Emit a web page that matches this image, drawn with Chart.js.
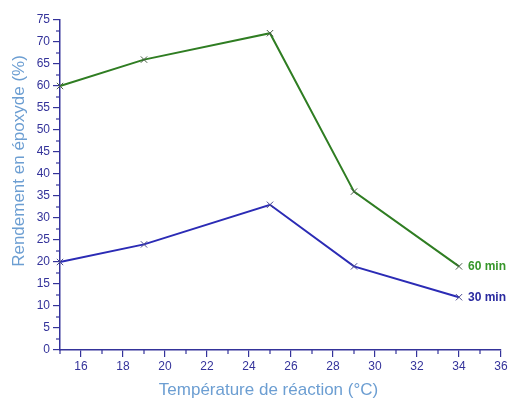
<!DOCTYPE html>
<html>
<head>
<meta charset="utf-8">
<script src="https://cdn.jsdelivr.net/npm/chart.js@4"></script>
<style>
  html, body { margin: 0; padding: 0; background: #fff; }
  #wrap { width: 508px; height: 401px; position: relative; }
</style>
</head>
<body>
<div id="wrap"><canvas id="yieldChart"></canvas></div>
<script>
// données
const temperatures = [15, 19, 25, 29, 34];
const yield60 = [60, 66, 72, 36, 19];
const yield30 = [20, 24, 33, 19, 12];
const seriesLabels = ['60 min', '30 min'];
const xTickValues = [16, 18, 20, 22, 24, 26, 28, 30, 32, 34, 36];
const xMinorValues = [15, 17, 19, 21, 23, 25, 27, 29, 31, 33, 35];
const yTickValues = [0, 5, 10, 15, 20, 25, 30, 35, 40, 45, 50, 55, 60, 65, 70, 75];
const yMinorValues = [2.5, 7.5, 12.5, 17.5, 22.5, 27.5, 32.5, 37.5, 42.5, 47.5, 52.5, 57.5, 62.5, 67.5, 72.5];

const axisColor = '#34339a';
const titleColor = '#6c9ed2';
const fontFamily = "'Liberation Sans', Arial, sans-serif";

function toPoints(values) {
    return temperatures.map((t, i) => ({ x: t, y: values[i] }));
}

// petites graduations + étiquettes de fin de courbe + titres des axes
const extrasPlugin = {
    id: 'extras',
    afterDraw(chart) {
        const ctx = chart.ctx;
        const xs = chart.scales.x, ys = chart.scales.y;
        ctx.save();
        ctx.strokeStyle = axisColor;
        ctx.lineWidth = 1.2;
        xMinorValues.forEach(v => {
            const px = xs.getPixelForValue(v);
            ctx.beginPath();
            ctx.moveTo(px, xs.top);
            ctx.lineTo(px, xs.top + 4);
            ctx.stroke();
        });
        yMinorValues.forEach(v => {
            const py = ys.getPixelForValue(v);
            ctx.beginPath();
            ctx.moveTo(ys.right, py);
            ctx.lineTo(ys.right - 4, py);
            ctx.stroke();
        });

        // noms des séries à droite du dernier point
        ctx.font = 'bold 12px ' + fontFamily;
        ctx.textAlign = 'left';
        ctx.textBaseline = 'middle';
        chart.data.datasets.forEach((ds, i) => {
            const pts = chart.getDatasetMeta(i).data;
            const last = pts[pts.length - 1];
            ctx.fillStyle = ds.labelColor;
            ctx.fillText(ds.label, last.x + 9, last.y);
        });

        // titres des axes
        const area = chart.chartArea;
        ctx.fillStyle = titleColor;
        ctx.font = '17px ' + fontFamily;
        ctx.textAlign = 'center';
        ctx.fillText('Température de réaction (°C)', (area.left + area.right) / 2 - 12, 390);
        ctx.translate(19, (area.top + area.bottom) / 2 - 24);
        ctx.rotate(-Math.PI / 2);
        ctx.fillText('Rendement en époxyde (%)', 0, 0);
        ctx.restore();
    }
};

const ctx = document.getElementById('yieldChart').getContext('2d');
new Chart(ctx, {
    type: 'scatter',
    data: {
        datasets: [{
            label: seriesLabels[0],
            data: toPoints(yield60),
            showLine: true,
            borderColor: '#2f7d22',
            labelColor: '#36962a',
            borderWidth: 2,
            pointStyle: 'crossRot',
            pointRadius: 4.5,
            pointBorderColor: '#4a5e48',
            pointBorderWidth: 1,
            clip: false
        }, {
            label: seriesLabels[1],
            data: toPoints(yield30),
            showLine: true,
            borderColor: '#2b2bb5',
            labelColor: '#2a2aa0',
            borderWidth: 2,
            pointStyle: 'crossRot',
            pointRadius: 4.5,
            pointBorderColor: '#4a4a90',
            pointBorderWidth: 1,
            clip: false
        }]
    },
    options: {
        responsive: true,
        maintainAspectRatio: false,
        animation: false,
        layout: { padding: { top: 20, right: 7, left: 0, bottom: 0 } },
        plugins: {
            legend: { display: false },
            tooltip: { enabled: false }
        },
        scales: {
            x: {
                type: 'linear',
                min: 15,
                max: 36,
                afterBuildTicks: (scale) => { scale.ticks = xTickValues.map(v => ({ value: v })); },
                afterFit: (scale) => { scale.height = 51; scale.paddingLeft = 0; scale.paddingRight = 0; },
                grid: { drawOnChartArea: false, drawTicks: true, tickLength: 7, color: axisColor, lineWidth: 1.2 },
                border: { display: true, color: axisColor, width: 1.5 },
                ticks: { color: axisColor, padding: 2, font: { family: fontFamily, size: 12 } }
            },
            y: {
                type: 'linear',
                min: 0,
                max: 75,
                afterBuildTicks: (scale) => { scale.ticks = yTickValues.map(v => ({ value: v })); },
                afterFit: (scale) => { scale.width = 60; scale.paddingTop = 0; scale.paddingBottom = 0; },
                grid: { drawOnChartArea: false, drawTicks: true, tickLength: 7, color: axisColor, lineWidth: 1.2 },
                border: { display: true, color: axisColor, width: 1.5 },
                ticks: { color: axisColor, padding: 3, font: { family: fontFamily, size: 12 } }
            }
        }
    },
    plugins: [extrasPlugin]
});
</script>
</body>
</html>
